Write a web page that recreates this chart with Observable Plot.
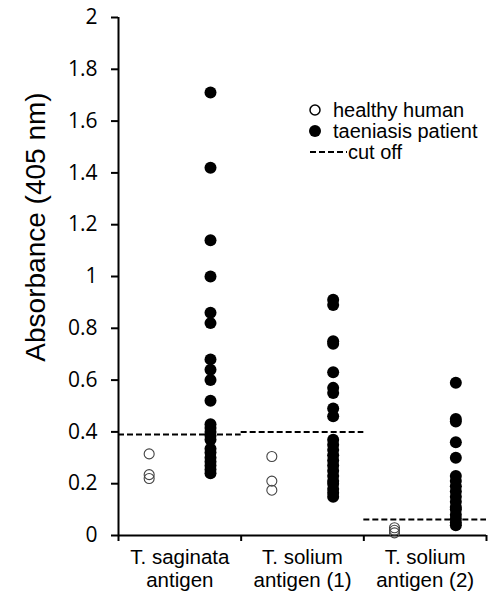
<!DOCTYPE html>
<html><head><meta charset="utf-8">
<script src="https://cdn.jsdelivr.net/npm/d3@7"></script>
<script src="https://cdn.jsdelivr.net/npm/@observablehq/plot@0.6"></script>
<style>
body{margin:0;background:#fff;}
#wrap{position:relative;width:489px;height:593px;}
#legend{position:absolute;left:0;top:0;}
</style></head><body><div id="wrap"><div id="chart"></div><svg id="legend" width="489" height="593"></svg></div>
<script>
const groups = ["T. saginata\nantigen", "T. solium\nantigen (1)", "T. solium\nantigen (2)"];
const healthyValues = [
  [0.315, 0.235, 0.22],
  [0.305, 0.21, 0.175],
  [0.03, 0.02, 0.01]
];
const patientValues = [
  [1.71, 1.42, 1.14, 1.00, 0.86, 0.82, 0.68, 0.64, 0.60, 0.52, 0.43, 0.415, 0.40, 0.385, 0.37, 0.335, 0.32, 0.30, 0.285, 0.27, 0.255, 0.24],
  [0.91, 0.89, 0.75, 0.74, 0.63, 0.57, 0.55, 0.49, 0.46, 0.37, 0.35, 0.33, 0.31, 0.29, 0.27, 0.25, 0.23, 0.21, 0.20, 0.18, 0.165, 0.15],
  [0.59, 0.45, 0.44, 0.36, 0.30, 0.23, 0.21, 0.19, 0.17, 0.15, 0.13, 0.11, 0.10, 0.08, 0.065, 0.05, 0.04]
];
const cutoffs = [0.39, 0.40, 0.062];
const yTicks = [0, 0.2, 0.4, 0.6, 0.8, 1, 1.2, 1.4, 1.6, 1.8, 2];
const yLabel = "Absorbance (405 nm)";
const legendLabels = ["healthy human", "taeniasis patient", "cut off"];

const healthyRows = healthyValues.flatMap((vs, g) => vs.map(v => ({g, v})));
const patientRows = patientValues.flatMap((vs, g) => vs.map(v => ({g, v})));
const cutRows = cutoffs.map((v, g) => ({g, v}));
const groupRows = groups.map((name, g) => ({g, name}));

const sans = "'Liberation Sans', Arial, sans-serif";

const chart = Plot.plot({
  width: 489, height: 593,
  marginLeft: 118, marginRight: 3, marginTop: 17, marginBottom: 58,
  x: {domain: [0, 3], axis: null},
  y: {domain: [0, 2], axis: null},
  style: {fontFamily: sans, background: "#fff"},
  marks: [
    Plot.axisY({ticks: yTicks, tickSize: 7, tickPadding: 14, strokeWidth: 2, fontSize: 21,
      fontFamily: "'Open Sans', sans-serif", tickFormat: d => String(+d.toFixed(1)), label: null}),
    Plot.axisX({ticks: [0, 1, 2, 3], tickSize: 6, strokeWidth: 2, tickFormat: () => "", label: null}),
    Plot.ruleX([0], {y1: 0, y2: 2, strokeWidth: 2}),
    Plot.ruleY([0], {strokeWidth: 2}),
    Plot.text(groupRows, {x: d => d.g + 0.5, text: "name", frameAnchor: "bottom", lineAnchor: "top",
      dy: 12, fontSize: 20.5, lineHeight: 1.13, fill: "#000"}),
    Plot.ruleY(cutRows, {y: "v", x1: "g", x2: d => d.g + 1, stroke: "#000", strokeWidth: 2, strokeDasharray: "6,3"}),
    Plot.dot(healthyRows, {x: d => d.g + 0.25, y: "v", r: 5, stroke: "#444", strokeWidth: 1.1, fill: "none"}),
    Plot.dot(patientRows, {x: d => d.g + 0.75, y: "v", r: 6, fill: "#000", stroke: "none"})
  ]
});
document.getElementById("chart").append(chart);

// y-axis title and legend
const lg = d3.select("#legend").style("font-family", sans).style("font-size", "20px");
lg.append("text").attr("transform", "translate(35,227) rotate(-90)")
  .attr("text-anchor", "middle").attr("dy", "0.35em").style("font-size", "28px").text(yLabel);
lg.append("circle").attr("cx", 315).attr("cy", 110).attr("r", 5).attr("fill", "none").attr("stroke", "#000").attr("stroke-width", 1.5);
lg.append("circle").attr("cx", 315).attr("cy", 131).attr("r", 6).attr("fill", "#000");
lg.append("line").attr("x1", 310).attr("x2", 347).attr("y1", 152).attr("y2", 152).attr("stroke", "#000").attr("stroke-width", 2).attr("stroke-dasharray", "6,3");
lg.selectAll("text.l").data(legendLabels).join("text").attr("class", "l")
  .attr("x", (d, i) => i < 2 ? 333 : 348)
  .attr("y", (d, i) => 110 + 21 * i)
  .attr("dy", "0.35em")
  .text(d => d);
</script></body></html>
